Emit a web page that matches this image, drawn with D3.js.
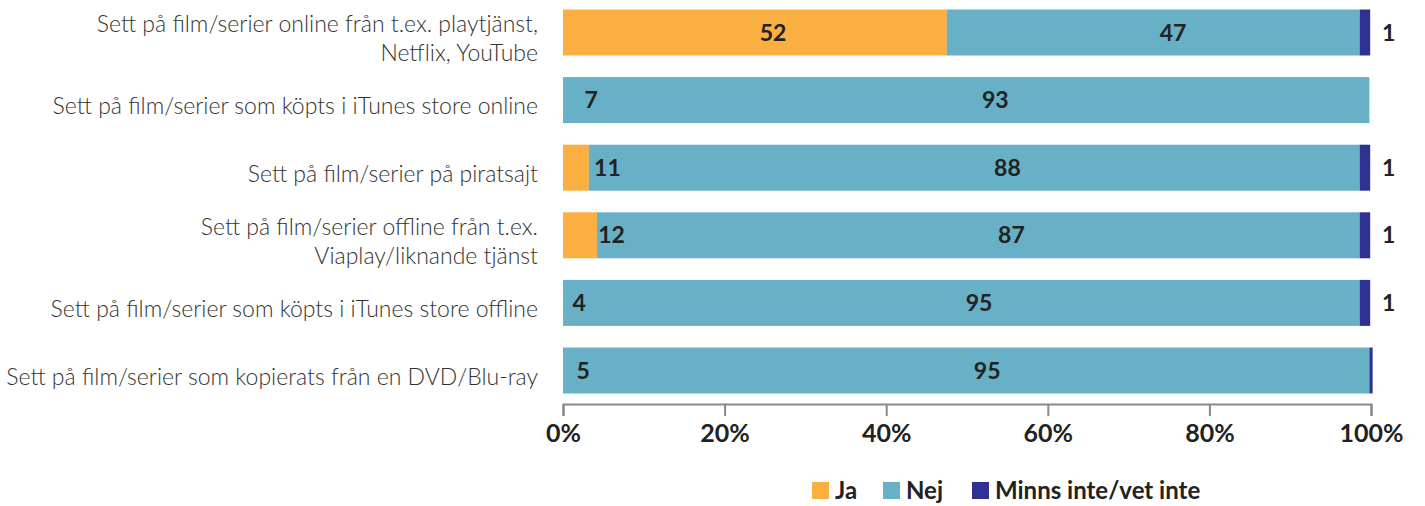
<!DOCTYPE html>
<html><head><meta charset="utf-8">
<script src="https://cdn.jsdelivr.net/npm/d3@7"></script>
<style>body{margin:0;background:#fff;}svg{display:block;font-family:Lato,sans-serif;}</style>
</head><body>
<svg id="chart" width="1425" height="506"></svg>
<script>
const categories = [
  ["Sett på film/serier online från t.ex. playtjänst,", "Netflix, YouTube"],
  ["Sett på film/serier som köpts i iTunes store online"],
  ["Sett på film/serier på piratsajt"],
  ["Sett på film/serier offline från t.ex.", "Viaplay/liknande tjänst"],
  ["Sett på film/serier som köpts i iTunes store offline"],
  ["Sett på film/serier som kopierats från en DVD/Blu-ray"]
];
const seriesNames = ["Ja", "Nej", "Minns inte/vet inte"];
// bar lengths as drawn in the picture (percent)
const jaBar = [47.5, 0, 3.2, 4.2, 0, 0];
const nejBar = [51.1, 99.8, 95.4, 94.4, 98.6, 99.8];
const minnsBar = [1.3, 0, 1.3, 1.3, 1.3, 0.4];
// value labels printed on the chart
const jaLabel = [52, 7, 11, 12, 4, 5];
const nejLabel = [47, 93, 88, 87, 95, 95];
const minnsLabel = [1, null, 1, 1, 1, null];
const xTicks = [0, 20, 40, 60, 80, 100];

const colors = ["#FBAF40", "#67B0C6", "#2E3192"];
const svg = d3.select("#chart");
const x = d3.scaleLinear().domain([0, 100]).range([563, 1371]);
const idx = d3.range(categories.length);
const y = d3.scaleBand().domain(idx).range([-1.3, 404.3]).paddingInner(0.32).paddingOuter(0.16);

const bars = [jaBar, nejBar, minnsBar];
const g = svg.append("g");
idx.forEach(i => {
  let acc = 0;
  bars.forEach((s, k) => {
    const v = s[i];
    if (v > 0) {
      g.append("rect").attr("x", x(acc)).attr("y", y(i))
        .attr("width", x(acc + v) - x(acc)).attr("height", y.bandwidth())
        .attr("fill", colors[k]);
    }
    acc += v;
  });
});

// value labels
const lab = svg.append("g").attr("font-weight", 700).attr("font-size", 23).attr("fill", "#222");
idx.forEach(i => {
  const cy = y(i) + y.bandwidth() / 2 + 8;
  lab.append("text").attr("x", x(jaLabel[i] / 2)).attr("y", cy).attr("text-anchor", "middle").text(jaLabel[i]);
  lab.append("text").attr("x", x(jaLabel[i] + nejLabel[i] / 2)).attr("y", cy).attr("text-anchor", "middle").text(nejLabel[i]);
  if (minnsLabel[i] != null)
    lab.append("text").attr("x", x(100) + 11).attr("y", cy).attr("text-anchor", "start").text(minnsLabel[i]);
});

// category labels
const cl = svg.append("g").attr("font-size", 23).attr("font-weight", 300).attr("fill", "#333").attr("text-anchor", "end");
idx.forEach(i => {
  const lines = categories[i];
  const lh = 29;
  const c = y(i) + y.bandwidth() / 2 + 6;
  const start = c - (lines.length - 1) * lh / 2 + 8;
  lines.forEach((t, j) => {
    cl.append("text").attr("x", 538).attr("y", start + j * lh).text(t);
  });
});

// axis
const axis = svg.append("g").attr("transform", "translate(0,404)")
  .call(d3.axisBottom(x).tickValues(xTicks).tickFormat(d => d + "%").tickSizeOuter(12).tickSizeInner(12).tickPadding(8));
axis.select(".domain").attr("stroke", "#888").attr("stroke-width", 2);
axis.selectAll(".tick line").attr("stroke", "#888").attr("stroke-width", 2);
axis.selectAll(".tick text").attr("font-family", "Lato, sans-serif").attr("font-size", 25).attr("font-weight", 700).attr("fill", "#222");

// legend
const legX = [812, 883, 972];
const leg = svg.append("g");
seriesNames.forEach((n, k) => {
  leg.append("rect").attr("x", legX[k]).attr("y", 482).attr("width", 17).attr("height", 17).attr("fill", colors[k]);
  leg.append("text").attr("x", legX[k] + 23).attr("y", 499).attr("font-size", 24).attr("font-weight", 700).attr("fill", "#222").text(n);
});
</script>
</body></html>
